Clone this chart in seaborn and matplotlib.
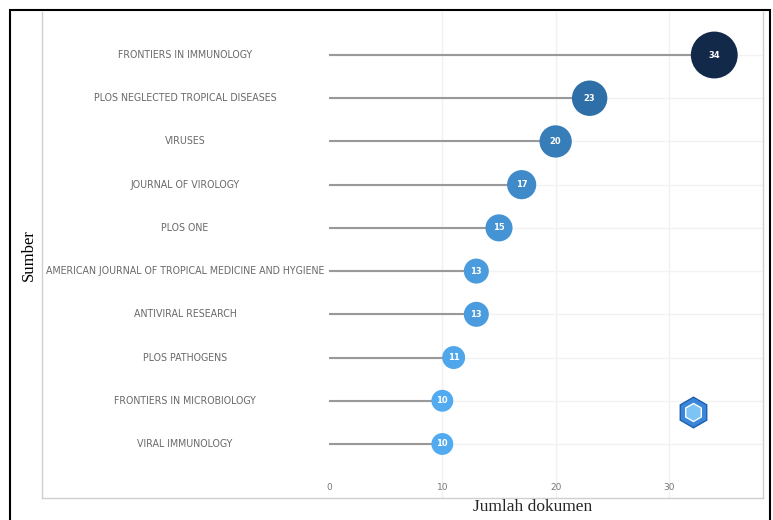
import numpy as np
import pandas as pd
import seaborn as sns
import matplotlib.pyplot as plt
from matplotlib.colors import LinearSegmentedColormap
from matplotlib.patches import Rectangle

sns.set_theme(style="white")
plt.rcParams['font.family'] = ['DejaVu Sans']

sources = ['FRONTIERS IN IMMUNOLOGY', 'PLOS NEGLECTED TROPICAL DISEASES', 'VIRUSES',
           'JOURNAL OF VIROLOGY', 'PLOS ONE', 'AMERICAN JOURNAL OF TROPICAL MEDICINE AND HYGIENE',
           'ANTIVIRAL RESEARCH', 'PLOS PATHOGENS', 'FRONTIERS IN MICROBIOLOGY', 'VIRAL IMMUNOLOGY']
counts = [34, 23, 20, 17, 15, 13, 13, 11, 10, 10]
x_ticks = [0, 10, 20, 30]

df = pd.DataFrame({'source': sources, 'count': counts})
df['pos'] = np.arange(len(df))

cmap = LinearSegmentedColormap.from_list('blues', [(0, '#52aaf0'), (0.55, '#2e6ea6'), (1, '#12294a')])
norm = plt.Normalize(min(counts), max(counts))
# circle diameter grows about linearly with the count (px -> pt at dpi 100)
size_map = {v: ((11.5 + 1.04 * v) * 0.72) ** 2 for v in df['count'].unique()}

fig = plt.figure(figsize=(7.73, 5.2), dpi=100)
ax = fig.add_axes([42 / 773, 22 / 520, 721 / 773, 486 / 520])

# faint grid
for t in x_ticks[1:]:
    ax.axvline(t, color='#f0f0f0', lw=1, zorder=0)
ax.hlines(df['pos'], 0, 38.3, color='#f2f2f2', lw=1, zorder=0)

# stems
ax.hlines(df['pos'], 0, df['count'], color='#999999', lw=1.5, zorder=1)

sns.scatterplot(data=df, x='count', y='pos', hue='count', size='count', sizes=size_map,
                palette=cmap, hue_norm=norm, edgecolor='none', legend=False, zorder=2, ax=ax)

for _, r in df.iterrows():
    ax.text(r['count'], r['pos'], str(r['count']), color='white', fontsize=6,
            fontweight='bold', ha='center', va='center', zorder=3)
    ax.text(-12.7, r['pos'], r['source'], color='#6a6a6a', fontsize=6.85,
            ha='center', va='center')

ax.set_xlim(-25.33, 38.3)
ax.set_ylim(10.25, -0.995)
ax.set_xticks(x_ticks)
ax.set_yticks([])
ax.tick_params(axis='x', length=0, pad=-11, labelsize=6.5, labelcolor='#777777')
ax.set_xlabel('')
ax.set_ylabel('Sumber', family=['Liberation Serif'], fontsize=12, color='black', labelpad=4)
for s in ['left', 'bottom', 'right']:
    ax.spines[s].set_color('#cfcfcf')
    ax.spines[s].set_linewidth(1)
ax.spines['top'].set_visible(False)

fig.text(533 / 773, 1 - 507 / 520, 'Jumlah dokumen', family=['Liberation Serif'],
         fontsize=12.5, ha='center', va='center')

# small logo
ax.plot([0.903], [0.177], marker='h', markersize=22, color='#3a86d8', transform=ax.transAxes,
        markeredgecolor='#1f5fb0', zorder=4)
ax.plot([0.903], [0.177], marker='h', markersize=13, color='#7cc4f5', transform=ax.transAxes,
        markeredgecolor='white', markeredgewidth=1, zorder=5)

fig.patches.append(Rectangle((10 / 773, -0.05), 760 / 773, 1.05 - 10 / 520, transform=fig.transFigure,
                             fill=False, edgecolor='black', lw=1.5))

plt.savefig('out.png', dpi=100)
